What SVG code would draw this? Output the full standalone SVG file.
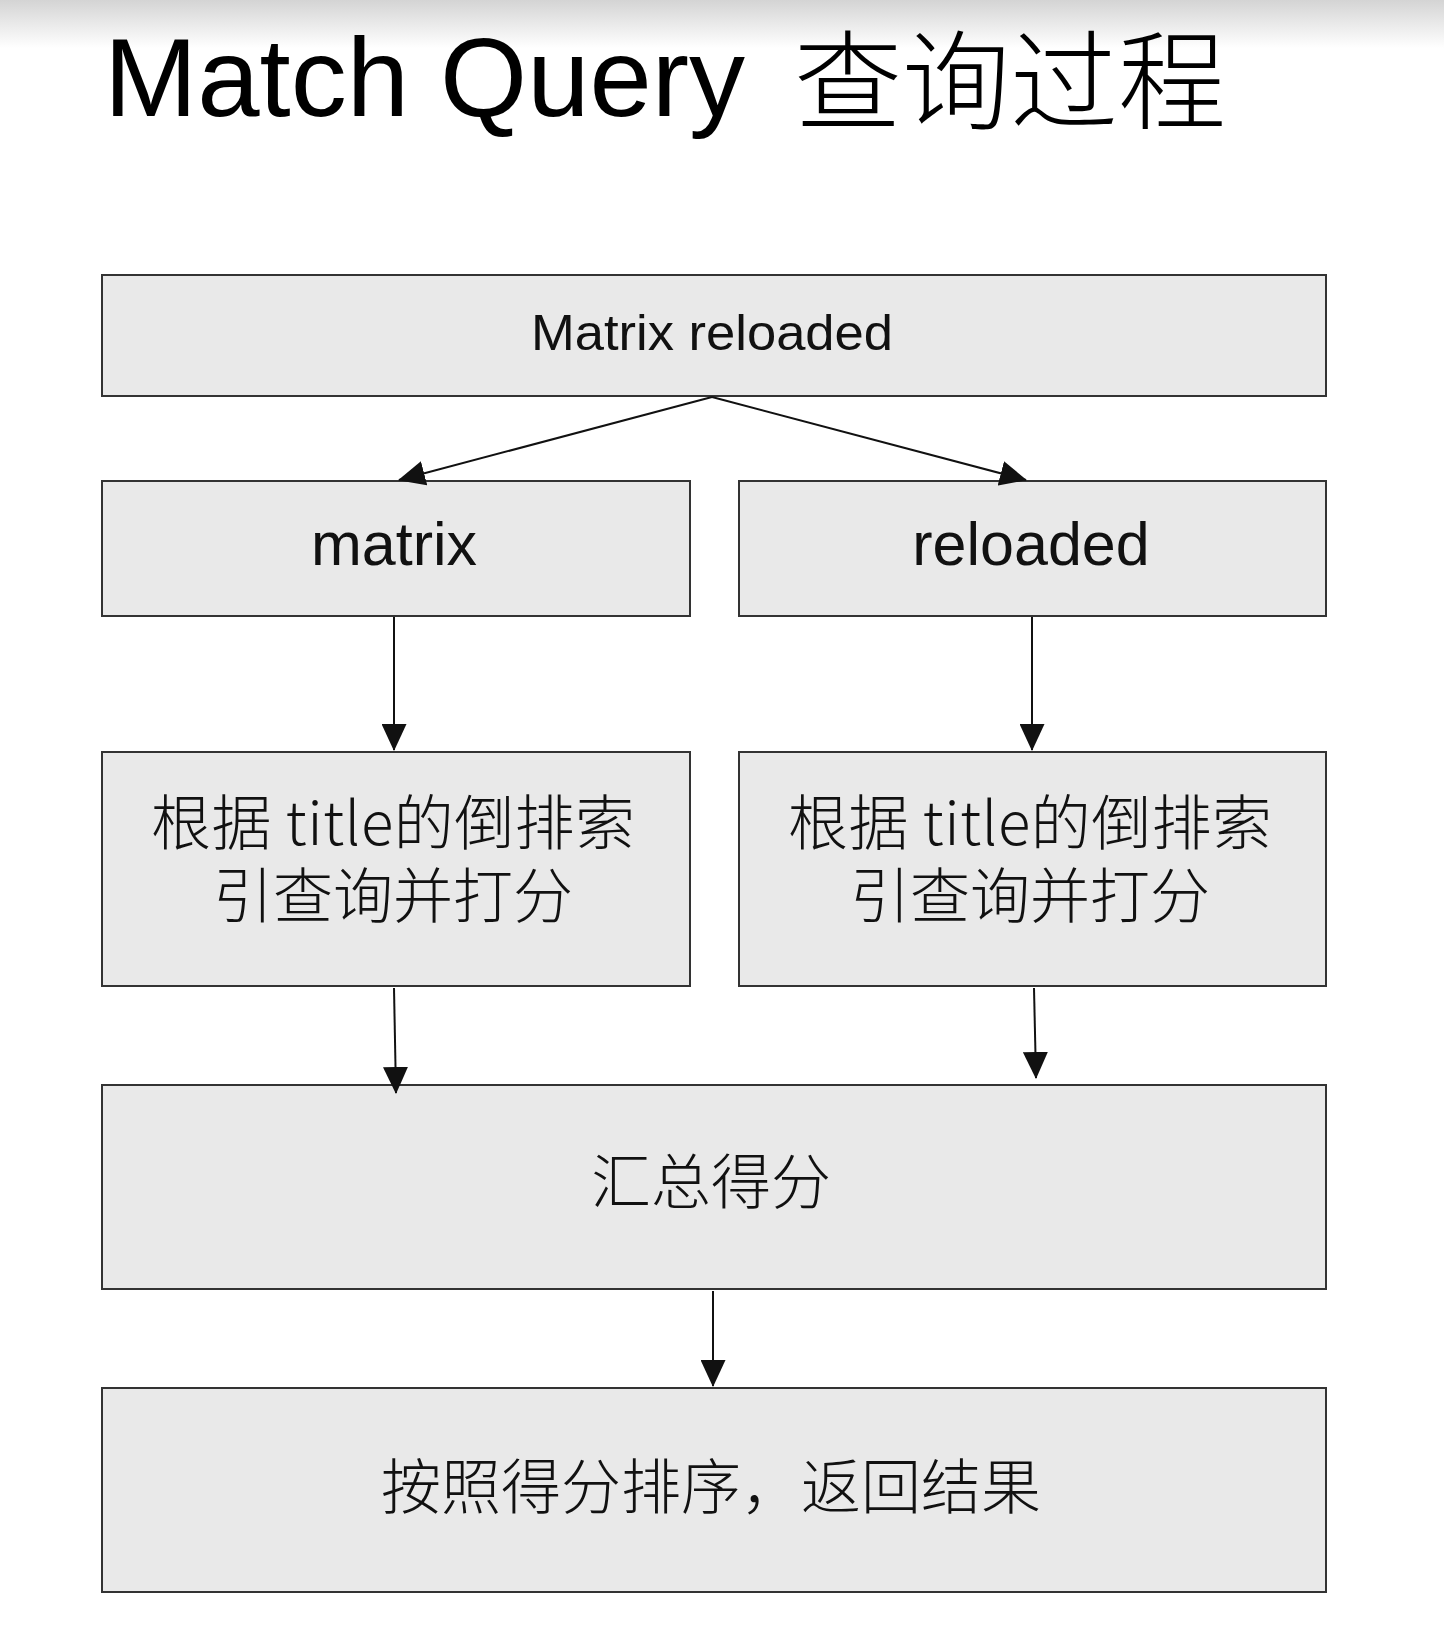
<svg xmlns="http://www.w3.org/2000/svg" width="1444" height="1634" viewBox="0 0 1444 1634">
<style>
.box{fill:#e9e9e9;stroke:#333;stroke-width:2}
.lbl{font-family:"Liberation Sans","Noto Sans CJK SC",sans-serif;fill:#111;text-anchor:middle}
.cjk{font-family:"Noto Sans CJK SC","Liberation Sans",sans-serif;fill:#111;text-anchor:middle;font-size:60px;font-weight:300}
.edge{fill:none;stroke:#111;stroke-width:2}
</style>
<defs>
<linearGradient id="topshade" x1="0" y1="0" x2="0" y2="1">
<stop offset="0" stop-color="#d4d4d4"/>
<stop offset="1" stop-color="#ffffff"/>
</linearGradient>
<marker id="arr" markerUnits="userSpaceOnUse" markerWidth="27" markerHeight="25" refX="26" refY="12.5" orient="auto">
<path d="M0,0 L27,12.5 L0,25 Z" fill="#111"/>
</marker>
</defs>
<rect x="0" y="0" width="1444" height="1634" fill="#ffffff"/>
<rect x="0" y="0" width="1444" height="48" fill="url(#topshade)"/>
<g id="title">
<text x="104" y="116" font-family="'Liberation Sans',sans-serif" font-size="112" fill="#000">Match Query</text>
<text x="794" y="121" font-family="'Noto Sans CJK SC',sans-serif" font-weight="300" font-size="108" fill="#000">查询过程</text>
</g>

<g id="node-query">
<rect class="box" x="102" y="275" width="1224" height="121"/>
<text class="lbl" x="712" y="350" font-size="50" textLength="362" lengthAdjust="spacingAndGlyphs">Matrix reloaded</text>
</g>
<g id="node-matrix">
<rect class="box" x="102" y="481" width="588" height="135"/>
<text class="lbl" x="394" y="565" font-size="61">matrix</text>
</g>
<g id="node-reloaded">
<rect class="box" x="739" y="481" width="587" height="135"/>
<text class="lbl" x="1031" y="565" font-size="61">reloaded</text>
</g>
<g id="node-score-left">
<rect class="box" x="102" y="752" width="588" height="234"/>
<text class="cjk" x="393" y="845" textLength="484" lengthAdjust="spacing">根据 title的倒排索</text>
<text class="cjk" x="393" y="918">引查询并打分</text>
</g>
<g id="node-score-right">
<rect class="box" x="739" y="752" width="587" height="234"/>
<text class="cjk" x="1030" y="845" textLength="484" lengthAdjust="spacing">根据 title的倒排索</text>
<text class="cjk" x="1030" y="918">引查询并打分</text>
</g>
<g id="node-sum">
<rect class="box" x="102" y="1085" width="1224" height="204"/>
<text class="cjk" x="711" y="1204">汇总得分</text>
</g>
<g id="node-result">
<rect class="box" x="102" y="1388" width="1224" height="204"/>
<text class="cjk" x="711" y="1509">按照得分排序，返回结果</text>
</g>

<g id="connectors">
<path class="edge" d="M712,397 L399,480" marker-end="url(#arr)"/>
<path class="edge" d="M712,397 L1026,480" marker-end="url(#arr)"/>
<path class="edge" d="M394,617 L394,750" marker-end="url(#arr)"/>
<path class="edge" d="M1032,617 L1032,750" marker-end="url(#arr)"/>
<path class="edge" d="M394,988 L396,1093" marker-end="url(#arr)"/>
<path class="edge" d="M1034,988 L1036,1078" marker-end="url(#arr)"/>
<path class="edge" d="M713,1291 L713,1386" marker-end="url(#arr)"/>
</g>
</svg>
